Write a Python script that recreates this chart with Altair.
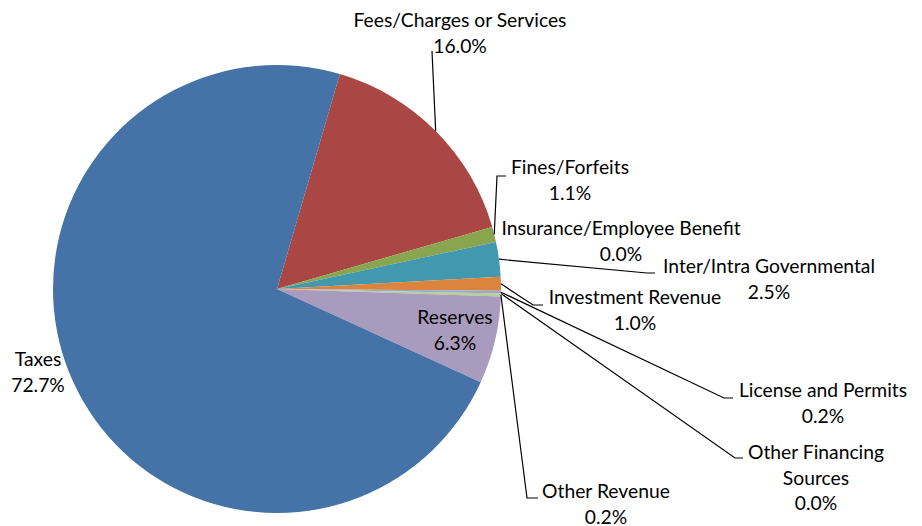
import math
import altair as alt
import pandas as pd

# ---- data ----
categories = ["Fees/Charges or Services", "Fines/Forfeits", "Insurance/Employee Benefit",
              "Inter/Intra Governmental", "Investment Revenue", "License and Permits",
              "Other Financing Sources", "Other Revenue", "Reserves", "Taxes"]
values = [16.0, 1.1, 0.0, 2.5, 1.0, 0.2, 0.0, 0.2, 6.3, 72.7]
colors = ["#AA4643", "#89A54E", "#71588F", "#4198AF", "#DB843D", "#93A9CF",
          "#D19392", "#B9CD96", "#A99BBD", "#4572A7"]

# ---- layout (canvas pixels) ----
W, H = 906, 510
CX, CY, R = 269, 281, 224
START = math.radians(16.3)
FONT = "Lato"
FS = 19.3
LINE_H = 25.5
# label text lines, label centre x, first line y, leader elbow points
label_lines = [["Fees/Charges or Services"], ["Fines/Forfeits"], ["Insurance/Employee Benefit"],
               ["Inter/Intra Governmental"], ["Investment Revenue"], ["License and Permits"],
               ["Other Financing", "Sources"], ["Other Revenue"], ["Reserves"], ["Taxes"]]
label_x = [452, 562, 613, 761, 627, 815, 808, 598, 447, 30]
label_y = [13, 160, 221, 259, 290, 383, 445, 484, 310, 352]
leader_pts = [[(424, 43)], [(489, 168), (498, 168)], [],
              [(639, 265), (647, 265)], [(525, 297), (535, 297)], [(716, 390), (725, 390)],
              [(727, 450), (735, 450)], [(519, 490), (530, 490)], [], []]

df = pd.DataFrame({"cat": categories, "value": values, "idx": list(range(len(values)))})

# text rows
trows = []
for i, (c, v) in enumerate(zip(categories, values)):
    lines = label_lines[i] + [f"{v:.1f}%"]
    for j, t in enumerate(lines):
        trows.append({"t": t, "x": label_x[i], "y": label_y[i] + j * LINE_H})
tdf = pd.DataFrame(trows)

# leader rows, starting at the slice mid-angle on the pie edge
total = sum(values)
lrows = []
cum = 0.0
for i, v in enumerate(values):
    mid = START + 2 * math.pi * (cum + v / 2) / total
    cum += v
    if not leader_pts[i]:
        continue
    pts = [(CX + R * math.sin(mid), CY - R * math.cos(mid))] + leader_pts[i]
    for k, (px, py) in enumerate(pts):
        lrows.append({"cat": categories[i], "k": k, "x": px, "y": py})
ldf = pd.DataFrame(lrows)

xs = alt.Scale(domain=[0, W], range=[0, W], nice=False, zero=False)
ys = alt.Scale(domain=[0, H], range=[0, H], nice=False, zero=False)

pie = alt.Chart(df).mark_arc(x=CX, y=CY, radius=R).encode(
    theta=alt.Theta("value:Q", stack=True,
                    scale=alt.Scale(range=[START, START + 2 * math.pi])),
    color=alt.Color("cat:N", scale=alt.Scale(domain=categories, range=colors), legend=None),
    order=alt.Order("idx:Q"),
)

leaders = alt.Chart(ldf).mark_line(color="black", strokeWidth=1.2).encode(
    x=alt.X("x:Q", scale=xs, axis=None),
    y=alt.Y("y:Q", scale=ys, axis=None),
    detail="cat:N",
    order="k:Q",
)

texts = alt.Chart(tdf).mark_text(font=FONT, fontSize=FS, color="black",
                                 align="center", baseline="middle").encode(
    x=alt.X("x:Q", scale=xs, axis=None),
    y=alt.Y("y:Q", scale=ys, axis=None),
    text="t:N",
)

chart = alt.layer(pie, leaders, texts).properties(
    width=W, height=H, padding=0
).configure_view(stroke=None)

chart.save("out.html", embed_options={"renderer": "svg", "actions": False})
